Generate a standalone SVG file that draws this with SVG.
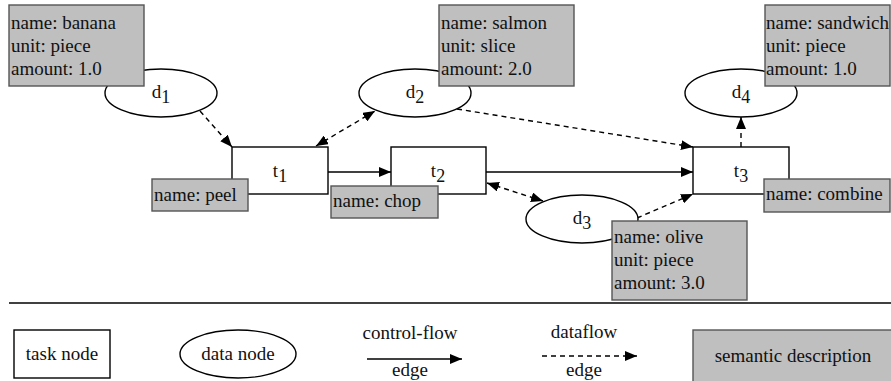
<svg xmlns="http://www.w3.org/2000/svg" width="891" height="381" viewBox="0 0 891 381">
<style>
text{font-family:"Liberation Serif","Times New Roman",serif;font-size:19px;fill:#111}
.task{fill:#fff;stroke:#000;stroke-width:1.4}
.data{fill:#fff;stroke:#000;stroke-width:1.4}
.sem{fill:#bfbfbf;stroke:#555;stroke-width:1.4}
.cf{fill:none;stroke:#000;stroke-width:1.4;marker-end:url(#ah)}
.df{fill:none;stroke:#000;stroke-width:1.4;stroke-dasharray:5,4;marker-end:url(#ah)}
.bi{marker-start:url(#ah)}
.m{text-anchor:middle}
</style>
<defs>
<marker id="ah" viewBox="0 0 12 10" refX="12" refY="5" markerWidth="12" markerHeight="10" markerUnits="userSpaceOnUse" orient="auto-start-reverse">
<path d="M0,0 L12,5 L0,10 z" fill="#000"/>
</marker>
</defs>
<g id="connectors">
<path class="df" d="M200,111 L232,147"/>
<path class="df bi" d="M316,146 L375,111"/>
<path class="df" d="M457,109 L693,147"/>
<path class="cf" d="M328,172 L391,172"/>
<path class="cf" d="M486,172 L693,172"/>
<path class="df bi" d="M487,183 L543,201"/>
<path class="df" d="M637,218 L693,194"/>
<path class="df" d="M741,147 L741,117"/>
</g>
<g id="d1">
<ellipse class="data" cx="161" cy="93" rx="56" ry="24"/>
<text class="m" x="161" y="98">d<tspan font-size="18" dy="5">1</tspan></text>
</g>
<g id="d2">
<ellipse class="data" cx="415" cy="93" rx="56" ry="24"/>
<text class="m" x="415" y="98">d<tspan font-size="18" dy="5">2</tspan></text>
</g>
<g id="d3">
<ellipse class="data" cx="582" cy="219" rx="56" ry="24"/>
<text class="m" x="582" y="224">d<tspan font-size="18" dy="5">3</tspan></text>
</g>
<g id="d4">
<ellipse class="data" cx="741" cy="93" rx="56" ry="24"/>
<text class="m" x="741" y="98">d<tspan font-size="18" dy="5">4</tspan></text>
</g>
<g id="t1">
<rect class="task" x="232" y="147" width="96" height="47"/>
<text class="m" x="280" y="177">t<tspan font-size="18" dy="5">1</tspan></text>
</g>
<g id="t2">
<rect class="task" x="391" y="147" width="95" height="47"/>
<text class="m" x="438" y="177">t<tspan font-size="18" dy="5">2</tspan></text>
</g>
<g id="t3">
<rect class="task" x="693" y="147" width="96" height="47"/>
<text class="m" x="741" y="177">t<tspan font-size="18" dy="5">3</tspan></text>
</g>
<g id="s-banana">
<rect class="sem" x="9" y="5" width="135" height="81"/>
<text x="11" y="29">name: banana</text>
<text x="11" y="52">unit: piece</text>
<text x="11" y="75">amount: 1.0</text>
</g>
<g id="s-salmon">
<rect class="sem" x="439" y="5" width="135" height="81"/>
<text x="441" y="29">name: salmon</text>
<text x="441" y="52">unit: slice</text>
<text x="441" y="75">amount: 2.0</text>
</g>
<g id="s-sandwich">
<rect class="sem" x="765" y="5" width="125" height="81"/>
<text x="766" y="29">name: sandwich</text>
<text x="766" y="52">unit: piece</text>
<text x="766" y="75">amount: 1.0</text>
</g>
<g id="s-olive">
<rect class="sem" x="612" y="221" width="135" height="79"/>
<text x="614" y="243">name: olive</text>
<text x="614" y="266">unit: piece</text>
<text x="614" y="289">amount: 3.0</text>
</g>
<g id="s-peel">
<rect class="sem" x="152" y="179" width="96" height="32"/>
<text x="154" y="201">name: peel</text>
</g>
<g id="s-chop">
<rect class="sem" x="331" y="186" width="107" height="32"/>
<text x="333" y="207">name: chop</text>
</g>
<g id="s-combine">
<rect class="sem" x="764" y="179" width="126" height="33"/>
<text x="766" y="200">name: combine</text>
</g>
<line x1="9" y1="303" x2="891" y2="303" stroke="#000" stroke-width="1.4"/>
<g id="legend">
<g id="legend-task">
<rect class="task" x="14" y="330" width="96" height="48"/>
<text class="m" x="62" y="360">task node</text>
</g>
<g id="legend-data">
<ellipse class="data" cx="238" cy="354" rx="58" ry="24"/>
<text class="m" x="238" y="360">data node</text>
</g>
<g id="legend-cf">
<text class="m" x="410" y="339">control-flow</text>
<path class="cf" d="M367,359 L462,359"/>
<text class="m" x="410" y="376">edge</text>
</g>
<g id="legend-df">
<text class="m" x="584" y="338">dataflow</text>
<path class="df" d="M542,356 L637,356"/>
<text class="m" x="584" y="376">edge</text>
</g>
<g id="legend-sem">
<rect class="sem" x="693" y="330" width="205" height="60"/>
<text class="m" x="793" y="362">semantic description</text>
</g>
</g>
</svg>
